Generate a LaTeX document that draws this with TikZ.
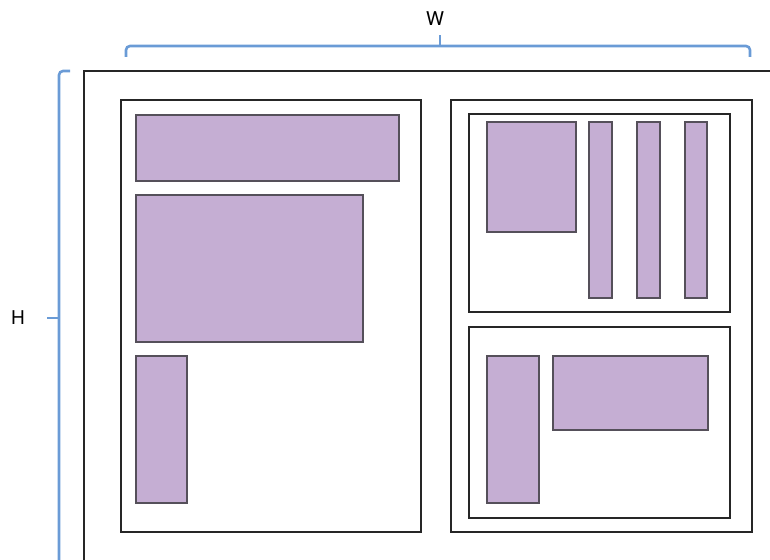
\documentclass[tikz,border=0pt]{standalone}
\usepackage{fontspec}
\setmainfont{TeX Gyre Heros}
\usetikzlibrary{shadows}
\definecolor{lilac}{RGB}{197,174,211}
\definecolor{boxedge}{RGB}{85,80,90}
\definecolor{braceblue}{RGB}{106,155,214}
\tikzset{
  frame/.style={draw=black!85, line width=1.2pt, fill=none, inner sep=0pt, outer sep=0pt, anchor=north west},
  block/.style={draw=boxedge, line width=1.2pt, fill=lilac, inner sep=0pt, outer sep=0pt, anchor=north west,
    drop shadow={opacity=0.25, shadow xshift=0.8pt, shadow yshift=-0.8pt}},
  brace/.style={draw=braceblue, line width=2.6pt, rounded corners=4pt},
  dim/.style={font=\fontsize{19}{22}\selectfont, inner sep=0pt}
}
% place a box by its top-left corner and size (all in px, y downwards)
\newcommand\blockat[5]{\node[#1, minimum width=#4pt, minimum height=#5pt] (#2) at (#3) {};}
\begin{document}
\begin{tikzpicture}[x=1pt, y=-1pt]
\useasboundingbox (0,0) rectangle (770,559);
\clip (0,0) rectangle (770,559);

% outer page, running past the right and bottom edges
\blockat{frame}{page}{84,71}{720}{520}

% left column
\blockat{frame}{colL}{121,100}{300}{432}
\blockat{block}{l1}{136,115}{263}{66}
\blockat{block}{l2}{136,195}{227}{147}
\blockat{block}{l3}{136,356}{51}{147}

% right column
\blockat{frame}{colR}{451,100}{301}{432}
\blockat{frame}{rtop}{469,114}{261}{198}
\blockat{block}{r1}{487,122}{89}{110}
\blockat{block}{r2}{589,122}{23}{176}
\blockat{block}{r3}{637,122}{23}{176}
\blockat{block}{r4}{685,122}{22}{176}
\blockat{frame}{rbot}{469,327}{261}{191}
\blockat{block}{r5}{487,356}{52}{147}
\blockat{block}{r6}{553,356}{155}{74}

% width brace
\coordinate (wl) at (126,57);
\coordinate (wr) at (750,57);
\coordinate (wm) at (440,46);
\coordinate (wt) at (440,35);
\draw[brace] (wl) -- (126,46) -- (750,46) -- (wr);
\draw[brace, rounded corners=0pt] (wm) -- (wt);
\node[dim] (W) at (435,19) {W};

% height brace
\coordinate (ht) at (70,71);
\coordinate (hb) at (59,600);
\coordinate (hm) at (59,318);
\coordinate (hk) at (47,318);
\draw[brace] (ht) -- (59,71) -- (hb);
\draw[brace, rounded corners=0pt] (hm) -- (hk);
\node[dim] (H) at (18,318) {H};
\end{tikzpicture}
\end{document}
